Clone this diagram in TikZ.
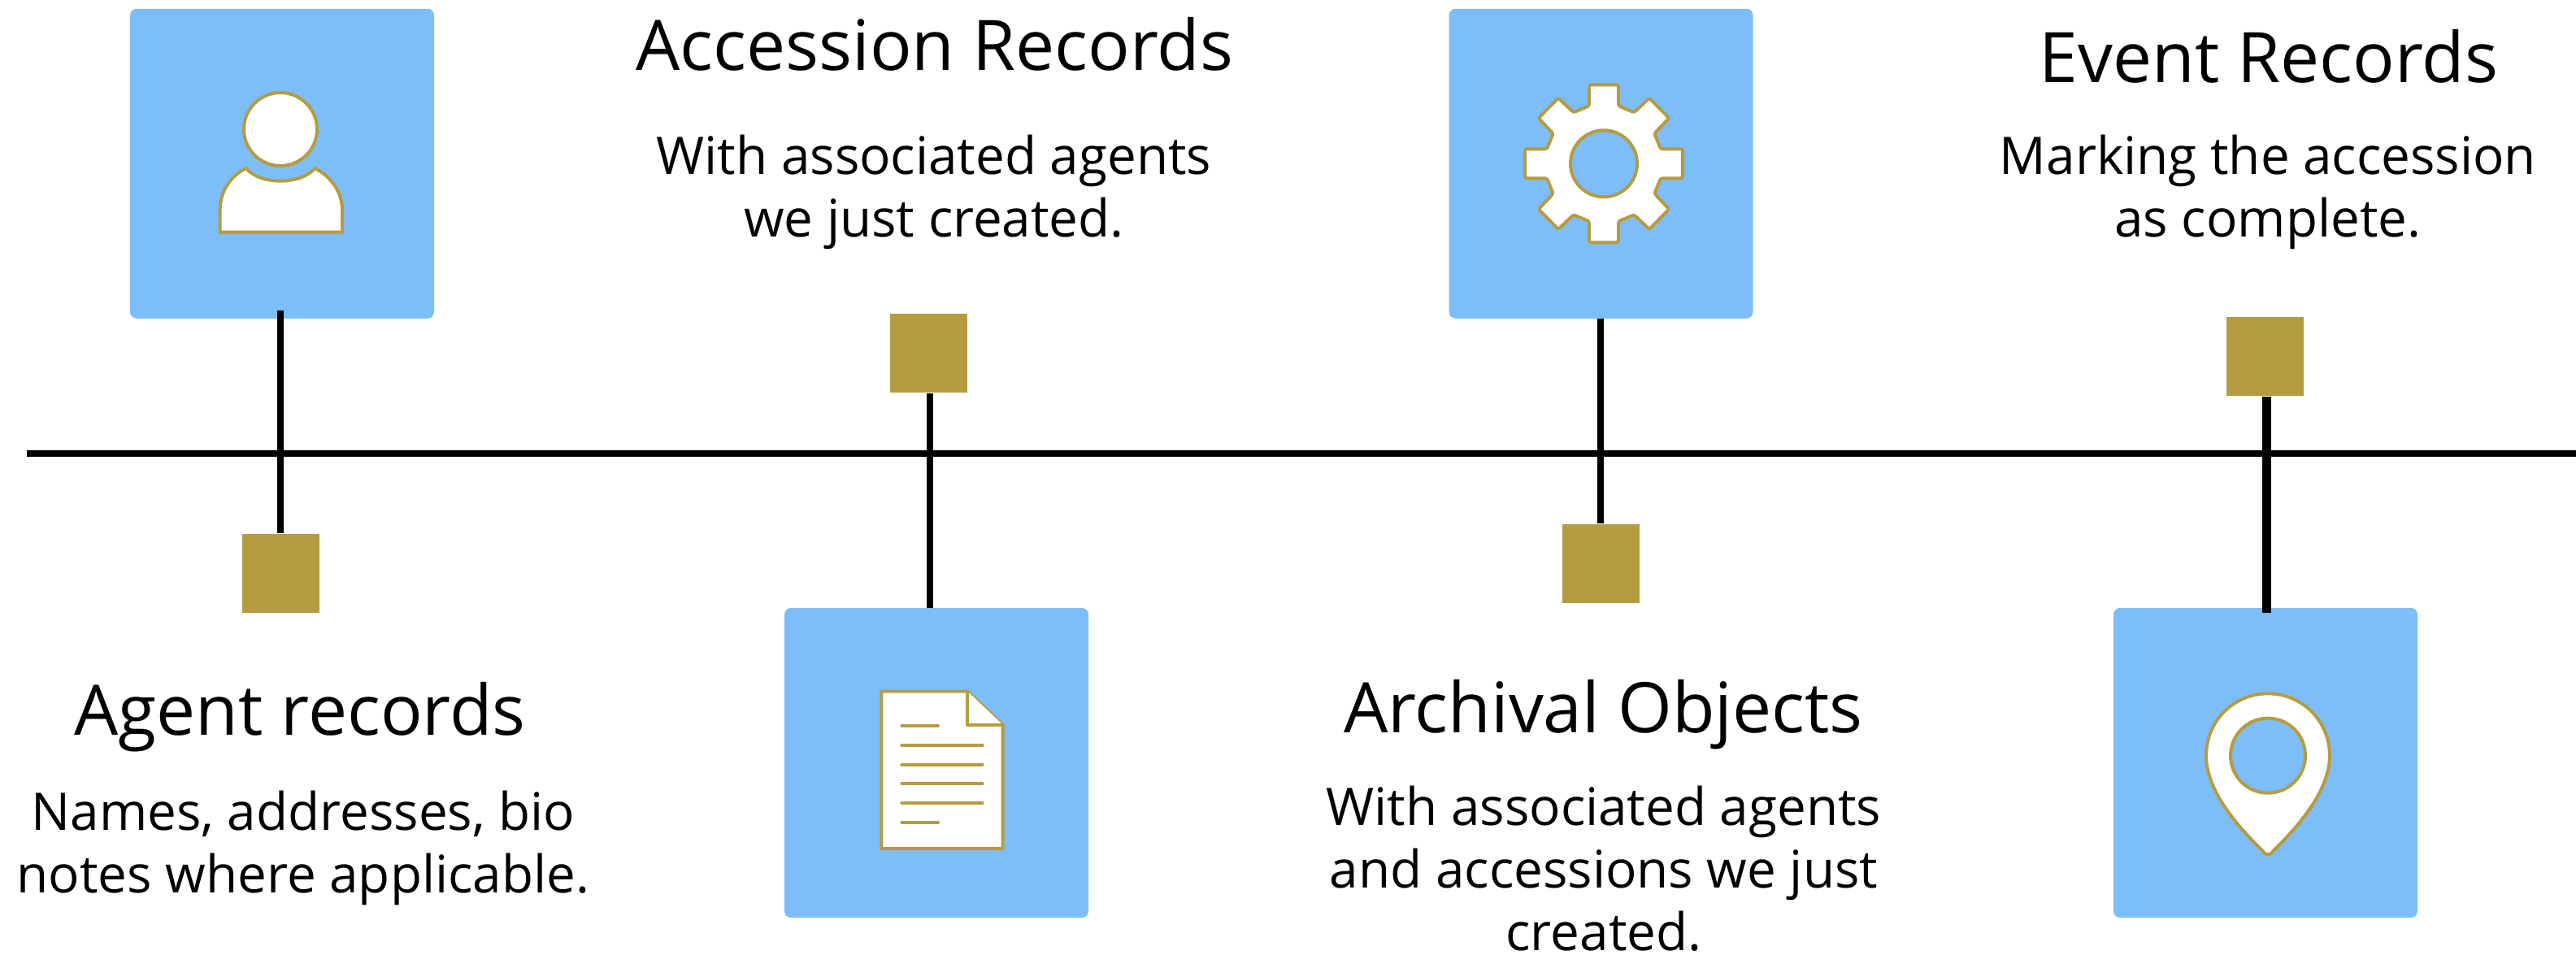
\documentclass[tikz,border=0pt]{standalone}
\usepackage{fontspec}
\setmainfont{Open Sans}

\definecolor{panelblue}{HTML}{7DBDFA}
\definecolor{markgold}{HTML}{B69C40}

\tikzset{
    panel/.style={fill=panelblue, rounded corners=0.08cm, minimum width=3.74cm, minimum height=3.81cm, inner sep=0},
    marker/.style={fill=markgold, minimum width=0.95cm, minimum height=0.97cm, inner sep=0},
    stem/.style={line width=0.08cm},
    icon/.style={draw=markgold, fill=white, line width=0.04cm, line join=round},
    heading/.style={font=\fontsize{24.4}{29}\selectfont, align=center},
    blurb/.style={font=\fontsize{18.15}{21.9}\selectfont, align=center}
}

\begin{document}
\begin{tikzpicture}
    \useasboundingbox (0, 0) rectangle (31.69, 11.74);
    %\draw[lightgray] (0, 0) grid (31, 11);

    % panels and markers
    \node[panel] (agentpanel) at (3.47, 9.727) {};
    \node[panel] (accessionpanel) at (11.52, 2.355) {};
    \node[panel] (objectpanel) at (19.695, 9.727) {};
    \node[panel] (eventpanel) at (27.87, 2.355) {};
    \node[marker] (agentmark) at (3.455, 4.685) {};
    \node[marker] (accessionmark) at (11.425, 7.395) {};
    \node[marker] (objectmark) at (19.695, 4.805) {};
    \node[marker] (eventmark) at (27.865, 7.355) {};

    % timeline
    \coordinate (linestart) at (0.33, 6.16);
    \coordinate (lineend) at (31.69, 6.16);
    \draw[stem] (linestart) -- (lineend);

    % stems
    \coordinate (agentfoot) at (3.45, 7.92);
    \coordinate (accessionfoot) at (11.44, 4.26);
    \coordinate (objectfoot) at (19.69, 7.82);
    \coordinate (eventfoot) at (27.887, 4.2);
    \draw[stem] (agentfoot) -- (agentfoot |- agentmark.north);
    \draw[stem] (accessionfoot) -- (accessionfoot |- accessionmark.south);
    \draw[stem] (objectfoot) -- (objectfoot |- objectmark.north);
    \draw[stem, line width=0.107cm] (eventfoot) -- (eventfoot |- eventmark.south);

    % person
    \draw[icon] (3.45, 10.15) circle (0.45cm);
    \draw[icon] (2.707, 8.883) -- (2.707, 9.16) .. controls (2.707, 9.38) and (2.83, 9.57) .. (3.027, 9.67)
        .. controls (3.2, 9.461) and (3.7, 9.461) .. (3.873, 9.67)
        .. controls (4.07, 9.57) and (4.21, 9.38) .. (4.21, 9.16) -- (4.21, 8.883) -- cycle;

    % document
    \draw[icon] (10.843, 3.233) -- (11.903, 3.233) -- (12.337, 2.823) -- (12.337, 1.3) -- (10.843, 1.3) -- cycle;
    \draw[icon] (11.903, 3.233) -- (11.903, 2.823) -- (12.337, 2.823);
    \foreach \liney/\lineend in {2.807/11.54, 2.57/12.087, 2.333/12.087, 2.097/12.087, 1.86/12.087, 1.623/11.54}
        \draw[icon, line cap=round] (11.093, \liney) -- (\lineend, \liney);

    % gear
    \begin{scope}[shift={(19.73, 9.727)}]
        \draw[icon, rounded corners=0.025cm] (-0.18, 0.97) -- (0.18, 0.97) -- (0.18, 0.71) -- (0.373, 0.63)
            -- (0.56, 0.807) -- (0.803, 0.56) -- (0.623, 0.37) -- (0.7, 0.18) -- (0.97, 0.18)
            -- (0.97, -0.18) -- (0.7, -0.18) -- (0.623, -0.37) -- (0.803, -0.56) -- (0.56, -0.807)
            -- (0.373, -0.63) -- (0.18, -0.71) -- (0.18, -0.97) -- (-0.18, -0.97) -- (-0.18, -0.71)
            -- (-0.373, -0.63) -- (-0.56, -0.807) -- (-0.803, -0.56) -- (-0.623, -0.37) -- (-0.7, -0.18)
            -- (-0.97, -0.18) -- (-0.97, 0.18) -- (-0.7, 0.18) -- (-0.623, 0.37) -- (-0.803, 0.56)
            -- (-0.56, 0.807) -- (-0.373, 0.63) -- (-0.18, 0.71) -- cycle;
        \draw[icon, fill=panelblue] (0, 0) circle (0.41cm);
    \end{scope}

    % pin
    \draw[icon] (27.833, 1.273) .. controls (27.55, 1.55) and (27.14, 2.0) .. (27.14, 2.443)
        .. controls (27.14, 2.87) and (27.48, 3.207) .. (27.9, 3.207)
        .. controls (28.32, 3.207) and (28.66, 2.87) .. (28.66, 2.443)
        .. controls (28.66, 2.0) and (28.25, 1.55) .. (27.967, 1.273)
        .. controls (27.93, 1.21) and (27.87, 1.21) .. cycle;
    \draw[icon, fill=panelblue] (27.9, 2.443) circle (0.46cm);

    % texts
    \node[heading] (agenttitle) at (3.69, 2.92) {Agent records};
    \node[blurb] (agenttext) at (3.73, 1.31) {Names, addresses, bio\\notes where applicable.};
    \node[heading] (accessiontitle) at (11.5, 11.2) {Accession Records};
    \node[blurb] (accessiontext) at (11.49, 9.38) {With associated agents\\we just created.};
    \node[heading] (objecttitle) at (19.725, 2.95) {Archival Objects};
    \node[blurb] (objecttext) at (19.73, 1.05) {With associated agents\\and accessions we just\\created.};
    \node[heading] (eventtitle) at (27.91, 11.05) {Event Records};
    \node[blurb] (eventtext) at (27.9, 9.38) {Marking the accession\\as complete.};
\end{tikzpicture}
\end{document}
